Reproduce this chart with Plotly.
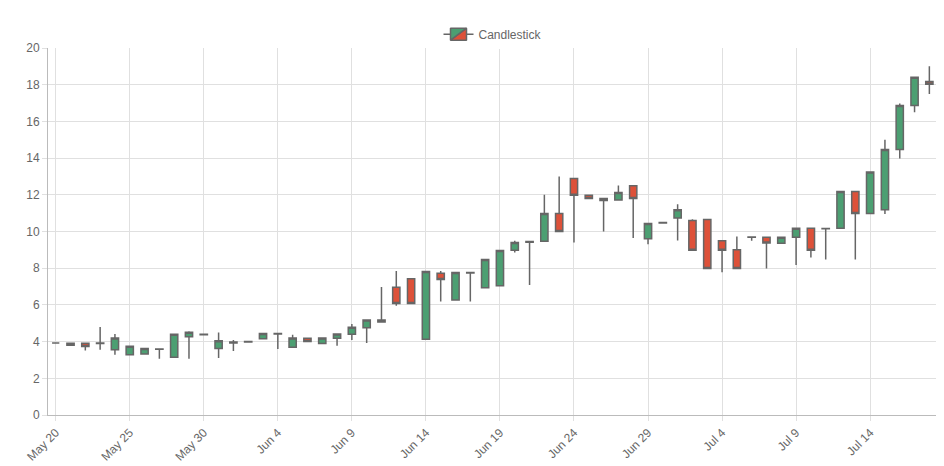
import pandas as pd
import plotly.graph_objects as go

dates = pd.date_range("2019-05-20", "2019-07-18", freq="D")

opens = [3.93, 3.91, 3.91, 3.90, 3.55, 3.29, 3.33, 3.58, 3.15, 4.27,
         4.38, 3.62, 3.93, 3.98, 4.16, 4.42, 3.69, 4.18, 3.89, 4.18,
         4.40, 4.76, 5.18, 6.96, 7.42, 4.13, 7.73, 6.27, 7.74, 6.93,
         7.05, 8.98, 9.42, 9.47, 10.98, 12.89, 11.98, 11.80, 11.71, 12.49,
         9.60, 10.47, 10.73, 10.60, 10.65, 9.49, 9.00, 9.70, 9.69, 9.36,
         9.69, 10.18, 10.15, 10.18, 12.18, 10.98, 11.18, 14.47, 16.87, 18.18]
highs = [3.95, 3.93, 3.93, 4.80, 4.42, 3.78, 3.64, 3.62, 4.42, 4.56,
         4.42, 4.49, 4.09, 4.02, 4.46, 4.46, 4.38, 4.20, 4.22, 4.44,
         4.96, 5.20, 6.98, 7.85, 7.44, 7.85, 7.85, 7.78, 7.78, 8.49,
         8.98, 9.49, 9.47, 12.00, 13.00, 12.91, 12.00, 11.82, 12.50, 12.51,
         10.46, 10.51, 11.49, 10.67, 10.67, 9.51, 9.73, 9.73, 9.71, 9.71,
         10.20, 10.20, 10.18, 12.20, 12.20, 13.26, 15.00, 16.98, 18.42, 19.00]
lows = [3.91, 3.78, 3.51, 3.56, 3.29, 3.27, 3.31, 3.07, 3.13, 3.07,
        4.36, 3.11, 3.49, 3.96, 4.14, 3.60, 3.67, 3.98, 3.87, 3.78,
        4.09, 3.93, 5.05, 5.96, 6.05, 4.11, 6.18, 6.25, 6.18, 6.91,
        7.03, 8.85, 7.09, 9.45, 9.98, 9.40, 11.78, 10.00, 11.69, 9.64,
        9.30, 10.45, 9.51, 8.96, 7.96, 7.78, 7.96, 9.49, 7.98, 9.34,
        8.18, 8.58, 8.47, 10.16, 8.47, 10.96, 10.96, 13.98, 16.50, 17.49]
closes = [3.93, 3.80, 3.73, 3.92, 4.20, 3.75, 3.62, 3.60, 4.40, 4.51,
          4.40, 4.05, 3.98, 4.00, 4.44, 4.44, 4.20, 4.00, 4.20, 4.42,
          4.78, 5.18, 5.07, 6.07, 6.07, 7.82, 7.38, 7.76, 7.76, 8.47,
          8.96, 9.40, 9.45, 10.98, 10.00, 11.98, 11.80, 11.69, 12.13, 11.80,
          10.44, 10.49, 11.18, 8.98, 7.98, 8.98, 7.98, 9.69, 9.38, 9.69,
          10.18, 8.98, 10.16, 12.18, 10.98, 13.24, 14.47, 16.87, 18.40, 18.02]

tick_dates = pd.date_range("2019-05-20", "2019-07-14", freq="5D")
tick_text = [d.strftime("%b ") + str(d.day) for d in tick_dates]

fig = go.Figure(go.Candlestick(
    x=dates, open=opens, high=highs, low=lows, close=closes,
    name="Candlestick", showlegend=True, whiskerwidth=0,
    increasing=dict(fillcolor="#4c9f72", line=dict(color="#666666", width=1.5)),
    decreasing=dict(fillcolor="#dd5139", line=dict(color="#666666", width=1.5)),
))

fig.update_layout(
    width=944, height=466,
    margin=dict(l=40, r=14, t=40, b=59, autoexpand=False),
    plot_bgcolor="white", paper_bgcolor="white",
    font=dict(family="Liberation Sans, Arial, sans-serif", size=12, color="#666666"),
    legend=dict(orientation="h", x=0.5, xanchor="center",
                yref="container", y=0.975, yanchor="top"),
    xaxis=dict(
        type="date", rangeslider=dict(visible=False),
        range=["2019-05-19 11:30", "2019-07-18 14:00"],
        tickvals=tick_dates, ticktext=tick_text, tickangle=-45,
        showgrid=True, gridcolor="#e0e0e0", showline=True, linecolor="#bbbbbb",
        ticks="outside", tickcolor="#e0e0e0", ticklen=5,
    ),
    yaxis=dict(
        range=[0, 20], dtick=2, showgrid=True, gridcolor="#e0e0e0",
        showline=True, linecolor="#bbbbbb", zeroline=False,
        ticks="outside", tickcolor="#e0e0e0", ticklen=5,
    ),
)

fig.write_html("out.html")
